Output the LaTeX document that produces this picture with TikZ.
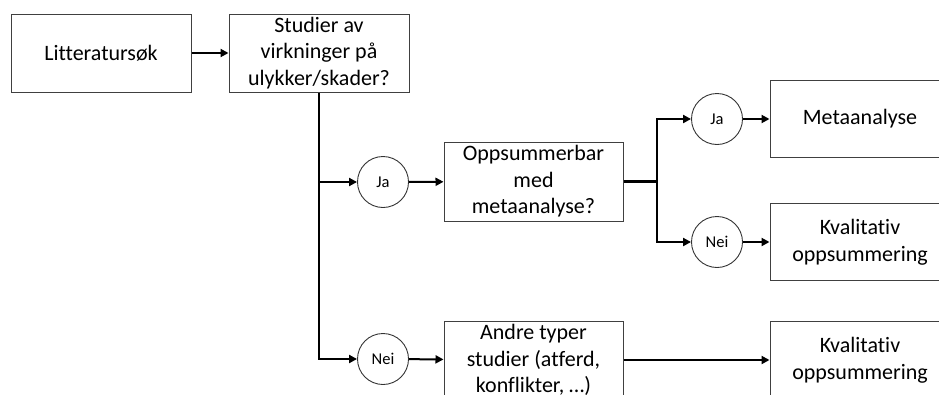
\documentclass[tikz,border=0pt]{standalone}
\usepackage{fontspec}
\setmainfont[Ligatures={NoCommon}]{Carlito}
\usetikzlibrary{arrows.meta}
\begin{document}
\begin{tikzpicture}[x=1pt,y=-1pt,
 box/.style={draw=black!75, line width=1pt, minimum width=180pt, minimum height=78pt, inner sep=0pt, align=center, font=\fontsize{22}{26.5}\selectfont, text=black},
 dec/.style={draw=black!80, circle, line width=0.9pt, minimum size=51pt, inner sep=0pt, font=\fontsize{16.5}{20}\selectfont},
 conn/.style={line width=2pt, -{Triangle[length=8pt,width=8pt]}},
 thick line/.style={line width=3pt}
]
\useasboundingbox (0,0) rectangle (939,394);
\clip (0,0) rectangle (939,394);

\node[box] (lit) at (101,53) {Litteratursøk};
\node[box] (stud) at (319,53) {Studier av\\virkninger på\\ulykker/skader?};
\node[dec] (ja1) at (383,182) {Ja};
\node[box, minimum width=179pt, minimum height=79pt] (opp) at (533.5,181.5) {Oppsummerbar\\med\\metaanalyse?};
\node[dec] (ja2) at (717,119) {Ja};
\node[dec] (nei2) at (717,242) {Nei};
\node[box, minimum height=77pt] (meta) at (860,119) {Metaanalyse};
\node[box, minimum height=77pt] (kval1) at (860,242) {Kvalitativ\\oppsummering};
\node[dec] (nei3) at (383,359) {Nei};
\node[box, minimum width=179pt] (andre) at (533.5,360) {Andre typer\\studier (atferd,\\konflikter, …)};
\node[box] (kval2) at (860,360) {Kvalitativ\\oppsummering};

\coordinate (fork) at (657,181.5);

\draw[conn] (lit) -- (stud);
\draw[conn] (stud.south) |- (nei3);
\draw[conn] (stud.south |- ja1) -- (ja1);
\draw[conn] (ja1) -- (opp);
\draw[thick line] (opp.east) -- (fork);
\draw[conn] (fork) |- (ja2);
\draw[conn] (fork) |- (nei2);
\draw[conn] (ja2) -- (meta);
\draw[conn] (nei2) -- (kval1);
\draw[conn] (nei3) -- (andre);
\draw[conn] (andre) -- (kval2);
\end{tikzpicture}
\end{document}
